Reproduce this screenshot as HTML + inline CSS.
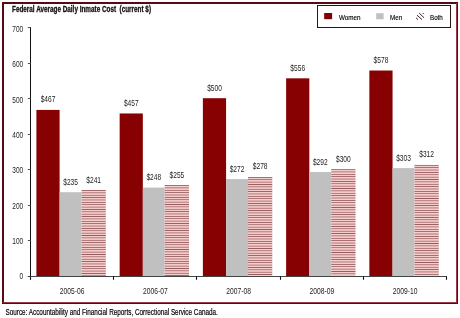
<!DOCTYPE html><html><head><meta charset="utf-8"><style>html,body{margin:0;padding:0;background:#fff;width:460px;height:318px;overflow:hidden}svg{display:block;will-change:transform}</style></head><body><svg width="460" height="318" viewBox="0 0 460 318"><defs><pattern id="st0" patternUnits="userSpaceOnUse" x="0" y="190.09" width="8" height="2.37"><rect width="8" height="2.37" fill="#f6cdcd"/><rect width="8" height="0.62" fill="#7a3a3c"/></pattern><pattern id="st1" patternUnits="userSpaceOnUse" x="0" y="185.13" width="8" height="2.37"><rect width="8" height="2.37" fill="#f6cdcd"/><rect width="8" height="0.62" fill="#7a3a3c"/></pattern><pattern id="st2" patternUnits="userSpaceOnUse" x="0" y="176.97" width="8" height="2.37"><rect width="8" height="2.37" fill="#f6cdcd"/><rect width="8" height="0.62" fill="#7a3a3c"/></pattern><pattern id="st3" patternUnits="userSpaceOnUse" x="0" y="169.16" width="8" height="2.37"><rect width="8" height="2.37" fill="#f6cdcd"/><rect width="8" height="0.62" fill="#7a3a3c"/></pattern><pattern id="st4" patternUnits="userSpaceOnUse" x="0" y="164.90" width="8" height="2.37"><rect width="8" height="2.37" fill="#f6cdcd"/><rect width="8" height="0.62" fill="#7a3a3c"/></pattern></defs><rect x="0" y="0" width="460" height="318" fill="#fff"/><rect x="2" y="2" width="456" height="2" fill="#580a14"/><rect x="2" y="2" width="2" height="302" fill="#580a14"/><rect x="456" y="3" width="1" height="300" fill="#9a3a48"/><rect x="457" y="2" width="1" height="302" fill="#580a14"/><rect x="3" y="302" width="454" height="1" fill="#9a3a48"/><rect x="2" y="303" width="456" height="1" fill="#580a14"/><text x="12" y="12" font-family='"Liberation Sans", sans-serif' font-weight="bold" font-size="9" fill="#111" stroke="#111" stroke-width="0.3" style="white-space:pre" textLength="139" lengthAdjust="spacingAndGlyphs">Federal Average Daily Inmate Cost  (current $)</text><rect x="317.5" y="5.5" width="133" height="22" fill="#fff" stroke="#2a1414" stroke-width="1"/><rect x="324.2" y="13" width="7.9" height="6.2" fill="#7c0004"/><text x="338.9" y="19.6" font-family='"Liberation Sans", sans-serif' font-size="7.6" fill="#000" stroke="#000" stroke-width="0.15" textLength="21.6" lengthAdjust="spacingAndGlyphs">Women</text><rect x="376.2" y="13.2" width="7.4" height="6.1" fill="#c0c0c0"/><text x="390" y="19.6" font-family='"Liberation Sans", sans-serif' font-size="7.6" fill="#000" stroke="#000" stroke-width="0.15" textLength="12.2" lengthAdjust="spacingAndGlyphs">Men</text><g stroke="#3a2222" stroke-width="1" stroke-linecap="round"><line x1="419.4" y1="13.3" x2="423.8" y2="17.5"/><line x1="417.3" y1="15.4" x2="421.8" y2="19.4"/><line x1="416.4" y1="18.2" x2="417.7" y2="19.4"/><line x1="423.0" y1="13.3" x2="423.5" y2="13.8"/></g><text x="430" y="19.6" font-family='"Liberation Sans", sans-serif' font-size="7.6" fill="#000" stroke="#000" stroke-width="0.15" textLength="12.8" lengthAdjust="spacingAndGlyphs">Both</text><line x1="30.5" y1="27" x2="30.5" y2="279.5" stroke="#111" stroke-width="1"/><line x1="27.8" y1="276.50" x2="30.5" y2="276.50" stroke="#555" stroke-width="1"/><text transform="translate(23.20 278.50) scale(0.76 1)" text-anchor="end" font-family='"Liberation Sans", sans-serif' font-weight="normal" font-size="8.6" fill="#222">0</text><line x1="27.8" y1="240.50" x2="30.5" y2="240.50" stroke="#555" stroke-width="1"/><text transform="translate(23.20 244.42) scale(0.76 1)" text-anchor="end" font-family='"Liberation Sans", sans-serif' font-weight="normal" font-size="8.6" fill="#222">100</text><line x1="27.8" y1="205.50" x2="30.5" y2="205.50" stroke="#555" stroke-width="1"/><text transform="translate(23.20 208.94) scale(0.76 1)" text-anchor="end" font-family='"Liberation Sans", sans-serif' font-weight="normal" font-size="8.6" fill="#222">200</text><line x1="27.8" y1="169.50" x2="30.5" y2="169.50" stroke="#555" stroke-width="1"/><text transform="translate(23.20 173.46) scale(0.76 1)" text-anchor="end" font-family='"Liberation Sans", sans-serif' font-weight="normal" font-size="8.6" fill="#222">300</text><line x1="27.8" y1="134.50" x2="30.5" y2="134.50" stroke="#555" stroke-width="1"/><text transform="translate(23.20 137.98) scale(0.76 1)" text-anchor="end" font-family='"Liberation Sans", sans-serif' font-weight="normal" font-size="8.6" fill="#222">400</text><line x1="27.8" y1="98.50" x2="30.5" y2="98.50" stroke="#555" stroke-width="1"/><text transform="translate(23.20 102.50) scale(0.76 1)" text-anchor="end" font-family='"Liberation Sans", sans-serif' font-weight="normal" font-size="8.6" fill="#222">500</text><line x1="27.8" y1="63.50" x2="30.5" y2="63.50" stroke="#555" stroke-width="1"/><text transform="translate(23.20 67.02) scale(0.76 1)" text-anchor="end" font-family='"Liberation Sans", sans-serif' font-weight="normal" font-size="8.6" fill="#222">600</text><line x1="27.8" y1="27.50" x2="30.5" y2="27.50" stroke="#555" stroke-width="1"/><text transform="translate(23.20 31.54) scale(0.76 1)" text-anchor="end" font-family='"Liberation Sans", sans-serif' font-weight="normal" font-size="8.6" fill="#222">700</text><rect x="36.40" y="109.91" width="23.20" height="166.09" fill="#870002"/><rect x="59.60" y="192.22" width="21.90" height="83.78" fill="#c0c0c0"/><rect x="81.50" y="190.09" width="24.30" height="85.91" fill="url(#st0)"/><text transform="translate(48.00 102.41) scale(0.77 1)" text-anchor="middle" font-family='"Liberation Sans", sans-serif' font-weight="normal" font-size="8.6" fill="#222">$467</text><text transform="translate(70.55 184.72) scale(0.77 1)" text-anchor="middle" font-family='"Liberation Sans", sans-serif' font-weight="normal" font-size="8.6" fill="#222">$235</text><text transform="translate(93.65 182.59) scale(0.77 1)" text-anchor="middle" font-family='"Liberation Sans", sans-serif' font-weight="normal" font-size="8.6" fill="#222">$241</text><text transform="translate(72.12 293.50) scale(0.82 1)" text-anchor="middle" font-family='"Liberation Sans", sans-serif' font-weight="normal" font-size="8.2" fill="#222">2005-06</text><rect x="119.64" y="113.46" width="23.20" height="162.54" fill="#870002"/><rect x="142.84" y="187.61" width="21.90" height="88.39" fill="#c0c0c0"/><rect x="164.74" y="185.13" width="24.30" height="90.87" fill="url(#st1)"/><text transform="translate(131.24 105.96) scale(0.77 1)" text-anchor="middle" font-family='"Liberation Sans", sans-serif' font-weight="normal" font-size="8.6" fill="#222">$457</text><text transform="translate(153.79 180.11) scale(0.77 1)" text-anchor="middle" font-family='"Liberation Sans", sans-serif' font-weight="normal" font-size="8.6" fill="#222">$248</text><text transform="translate(176.89 177.63) scale(0.77 1)" text-anchor="middle" font-family='"Liberation Sans", sans-serif' font-weight="normal" font-size="8.6" fill="#222">$255</text><text transform="translate(155.36 293.50) scale(0.82 1)" text-anchor="middle" font-family='"Liberation Sans", sans-serif' font-weight="normal" font-size="8.2" fill="#222">2006-07</text><rect x="202.88" y="98.20" width="23.20" height="177.80" fill="#870002"/><rect x="226.08" y="179.09" width="21.90" height="96.91" fill="#c0c0c0"/><rect x="247.98" y="176.97" width="24.30" height="99.03" fill="url(#st2)"/><text transform="translate(214.48 90.70) scale(0.77 1)" text-anchor="middle" font-family='"Liberation Sans", sans-serif' font-weight="normal" font-size="8.6" fill="#222">$500</text><text transform="translate(237.03 171.59) scale(0.77 1)" text-anchor="middle" font-family='"Liberation Sans", sans-serif' font-weight="normal" font-size="8.6" fill="#222">$272</text><text transform="translate(260.13 169.47) scale(0.77 1)" text-anchor="middle" font-family='"Liberation Sans", sans-serif' font-weight="normal" font-size="8.6" fill="#222">$278</text><text transform="translate(238.60 293.50) scale(0.82 1)" text-anchor="middle" font-family='"Liberation Sans", sans-serif' font-weight="normal" font-size="8.2" fill="#222">2007-08</text><rect x="286.12" y="78.33" width="23.20" height="197.67" fill="#870002"/><rect x="309.32" y="172.00" width="21.90" height="104.00" fill="#c0c0c0"/><rect x="331.22" y="169.16" width="24.30" height="106.84" fill="url(#st3)"/><text transform="translate(297.72 70.83) scale(0.77 1)" text-anchor="middle" font-family='"Liberation Sans", sans-serif' font-weight="normal" font-size="8.6" fill="#222">$556</text><text transform="translate(320.27 164.50) scale(0.77 1)" text-anchor="middle" font-family='"Liberation Sans", sans-serif' font-weight="normal" font-size="8.6" fill="#222">$292</text><text transform="translate(343.37 161.66) scale(0.77 1)" text-anchor="middle" font-family='"Liberation Sans", sans-serif' font-weight="normal" font-size="8.6" fill="#222">$300</text><text transform="translate(321.84 293.50) scale(0.82 1)" text-anchor="middle" font-family='"Liberation Sans", sans-serif' font-weight="normal" font-size="8.2" fill="#222">2008-09</text><rect x="369.36" y="70.53" width="23.20" height="205.47" fill="#870002"/><rect x="392.56" y="168.10" width="21.90" height="107.90" fill="#c0c0c0"/><rect x="414.46" y="164.90" width="24.30" height="111.10" fill="url(#st4)"/><text transform="translate(380.96 63.03) scale(0.77 1)" text-anchor="middle" font-family='"Liberation Sans", sans-serif' font-weight="normal" font-size="8.6" fill="#222">$578</text><text transform="translate(403.51 160.60) scale(0.77 1)" text-anchor="middle" font-family='"Liberation Sans", sans-serif' font-weight="normal" font-size="8.6" fill="#222">$303</text><text transform="translate(426.61 157.40) scale(0.77 1)" text-anchor="middle" font-family='"Liberation Sans", sans-serif' font-weight="normal" font-size="8.6" fill="#222">$312</text><text transform="translate(405.08 293.50) scale(0.82 1)" text-anchor="middle" font-family='"Liberation Sans", sans-serif' font-weight="normal" font-size="8.2" fill="#222">2009-10</text><line x1="27.8" y1="276.5" x2="447" y2="276.5" stroke="#444" stroke-width="1"/><line x1="30.50" y1="276.5" x2="30.50" y2="279.8" stroke="#111" stroke-width="1.1"/><line x1="113.50" y1="276.5" x2="113.50" y2="279.8" stroke="#111" stroke-width="1.1"/><line x1="196.50" y1="276.5" x2="196.50" y2="279.8" stroke="#111" stroke-width="1.1"/><line x1="280.50" y1="276.5" x2="280.50" y2="279.8" stroke="#111" stroke-width="1.1"/><line x1="363.50" y1="276.5" x2="363.50" y2="279.8" stroke="#111" stroke-width="1.1"/><line x1="446.50" y1="276.5" x2="446.50" y2="279.8" stroke="#111" stroke-width="1.1"/><text x="5.5" y="315" font-family='"Liberation Sans", sans-serif' font-size="8.4" fill="#000" stroke="#000" stroke-width="0.18" textLength="212.3" lengthAdjust="spacingAndGlyphs">Source: Accountability and Financial Reports, Correctional Service Canada.</text></svg></body></html>
